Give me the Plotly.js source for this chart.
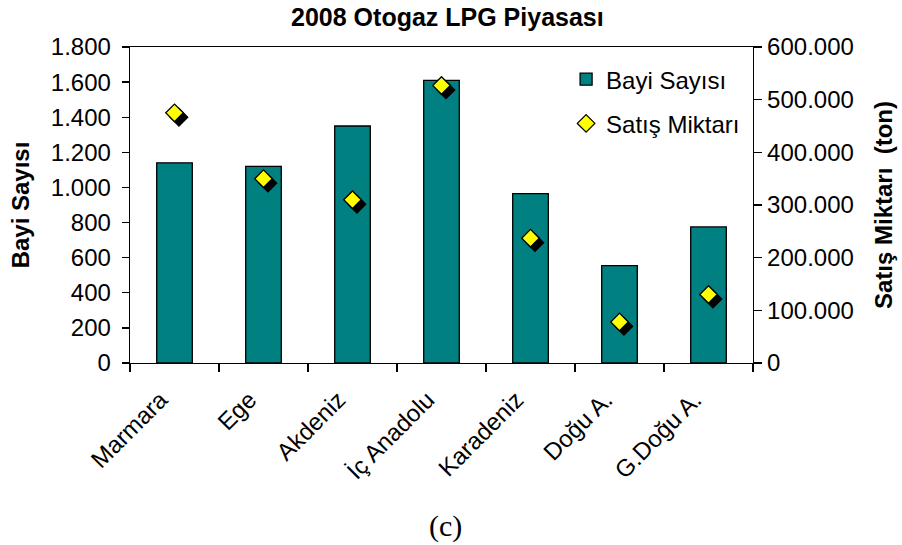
<!DOCTYPE html>
<html>
<head>
<meta charset="utf-8">
<script src="https://cdn.plot.ly/plotly-3.0.1.min.js"></script>
<style>html,body{margin:0;padding:0;background:#fff;}#chart{width:902px;height:545px;}</style>
</head>
<body>
<div id="chart"></div>
<script>
// Data
var regions = ["Marmara", "Ege", "Akdeniz", "İç Anadolu", "Karadeniz", "Doğu A.", "G.Doğu A."];
var bayiSayisi = [1140, 1120, 1350, 1610, 965, 555, 775];
var satisMiktari = [475000, 350000, 310000, 527000, 237000, 78000, 130000];
var leftTicks = [0, 200, 400, 600, 800, 1000, 1200, 1400, 1600, 1800];
var rightTicks = [0, 100000, 200000, 300000, 400000, 500000, 600000];

var FONT = "'Liberation Sans', Arial, sans-serif";
var shadowDX = 0.05;     // category units (~4.5px)
var shadowDY = 8500;     // right-axis units (~4.5px)

var traces = [
  {
    type: "bar", name: "Bayi Sayısı", x: regions, y: bayiSayisi,
    xaxis: "x", yaxis: "y",
    marker: {color: "#008080", line: {color: "#000000", width: 1.3}},
    legendgroup: "a", hoverinfo: "x+y"
  },
  {
    type: "scatter", mode: "markers", name: "shadow", x: regions, y: satisMiktari,
    xaxis: "x2", yaxis: "y2", showlegend: false,
    marker: {symbol: "diamond", size: 13.5, color: "#000000", line: {color: "#000000", width: 1.3}},
    hoverinfo: "skip"
  },
  {
    type: "scatter", mode: "markers", name: "Satış Miktarı", x: regions, y: satisMiktari,
    xaxis: "x3", yaxis: "y3",
    marker: {symbol: "diamond", size: 13.5, color: "#FFFF00", line: {color: "#000000", width: 1.3}},
    legendgroup: "b"
  }
];

var layout = {
  width: 902, height: 545,
  margin: {l: 130, r: 149, t: 47, b: 182},
  paper_bgcolor: "#ffffff", plot_bgcolor: "#ffffff",
  separators: ",.",
  font: {family: FONT, size: 24, color: "#000000"},
  title: {text: "<b>2008 Otogaz LPG Piyasası</b>", font: {family: FONT, size: 25, color: "#000"},
          x: 0.496, xref: "container", xanchor: "center", y: 0.969, yref: "container", yanchor: "middle"},
  bargap: 0.6,
  showlegend: true,
  legend: {x: 0.70, y: 0.968, xanchor: "left", yanchor: "top", bgcolor: "rgba(0,0,0,0)",
           font: {family: FONT, size: 24}, traceorder: "grouped", tracegroupgap: 10},
  xaxis: {
    type: "category", range: [-0.5, 6.5], showline: true, linecolor: "#000", linewidth: 1.3, mirror: true,
    ticks: "outside", tickson: "boundaries", ticklen: 8, tickcolor: "#000", tickwidth: 1.3,
    tickangle: -45, showgrid: false, zeroline: false, tickfont: {size: 24},
    ticklabelstandoff: 12, ticklabelshift: -14
  },
  xaxis2: {type: "category", overlaying: "x", range: [-0.5 - shadowDX, 6.5 - shadowDX], visible: false},
  xaxis3: {type: "category", overlaying: "x", range: [-0.5, 6.5], visible: false},
  yaxis: {
    range: [0, 1800], tickvals: leftTicks, tickformat: ",d", showline: true, linecolor: "#000", linewidth: 1.3,
    ticks: "outside", ticklen: 7, tickcolor: "#000", tickwidth: 1.3, showgrid: false, zeroline: false,
    ticklabelstandoff: 6,
    title: {text: "<b>Bayi Sayısı</b>", font: {family: FONT, size: 24}, standoff: 14}
  },
  yaxis2: {overlaying: "y", range: [shadowDY, 600000 + shadowDY], visible: false},
  yaxis3: {
    overlaying: "y", side: "right", range: [0, 600000], tickvals: rightTicks, tickformat: ",d",
    showline: true, linecolor: "#000", linewidth: 1.3, ticks: "outside", ticklen: 8, tickcolor: "#000", tickwidth: 1.3,
    showgrid: false, zeroline: false,
    title: {text: "<b>Satış Miktarı  (ton)</b>", font: {family: FONT, size: 24}, standoff: 22}
  },
  annotations: [
    {text: "(c)", xref: "paper", yref: "paper", x: (445 - 130) / 623, y: (363.5 - 527) / 316.8,
     xanchor: "center", yanchor: "middle", showarrow: false,
     font: {family: "'Liberation Serif', 'Times New Roman', serif", size: 30, color: "#000"}}
  ]
};

Plotly.newPlot("chart", traces, layout, {displayModeBar: false, staticPlot: true});
</script>
</body>
</html>
